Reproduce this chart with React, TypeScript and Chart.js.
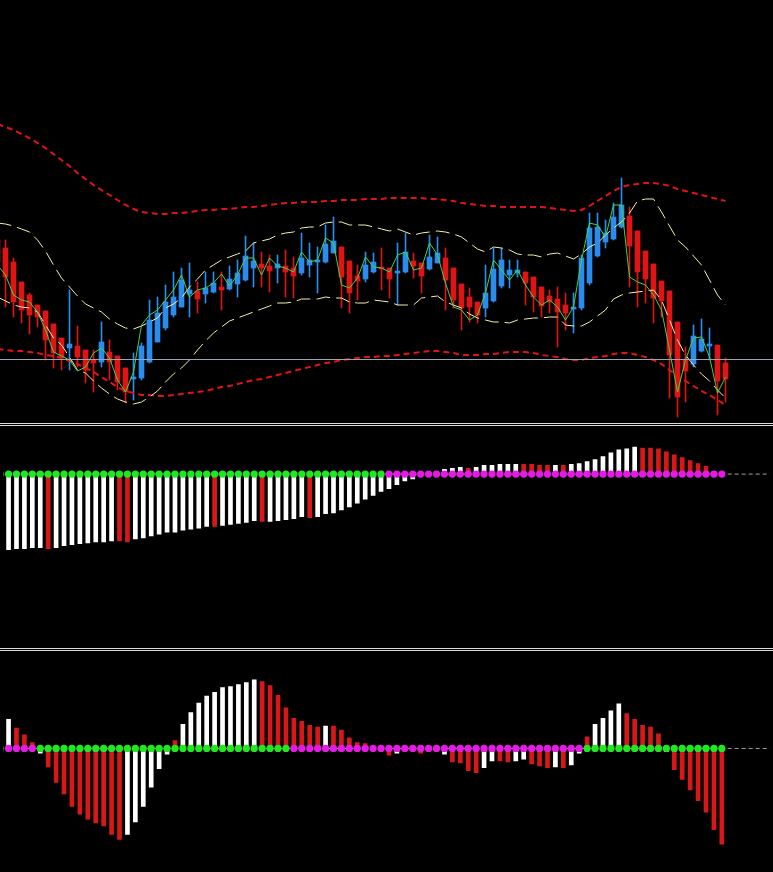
import React, { useEffect, useRef } from 'react';
import { Chart, registerables } from 'chart.js';
Chart.register(...registerables);

// ---------- price panel (bars k = -1 .. 90) ----------
const OPEN = [
  1.4760,1.4752,1.4738,1.4718,1.4705,1.4695,1.4689,1.4676,1.4662,1.4652,
  1.4654,1.4650,1.4640,1.4638,1.4648,1.4644,1.4632,1.4621,1.4622,1.4638,
  1.4658,1.4672,1.4685,1.4693,1.4706,1.4709,1.4706,1.4708,1.4713,1.4711,
  1.4716,1.4720,1.4732,1.4736,1.4734,1.4732,1.4734,1.4732,1.4727,1.4735,
  1.4738,1.4738,1.4747,1.4753,1.4739,1.4724,1.4721,1.4728,1.4733,1.4732,
  1.4727,1.4728,1.4739,1.4737,1.4731,1.4737,1.4742,1.4732,1.4716,1.4703,
  1.4698,1.4692,1.4699,1.4714,1.4725,1.4727,1.4728,1.4723,1.4713,1.4704,
  1.4701,1.4695,1.4691,1.4692,1.4717,1.4744,1.4758,1.4761,1.4773,1.4784,
  1.4769,1.4749,1.4736,1.4719,1.4709,1.4678,1.4641,1.4636,1.4649,1.4654,
  1.4655,1.4637,
];
const HIGH = [
  1.4765,1.4760,1.4742,1.4718,1.4707,1.4695,1.4689,1.4676,1.4662,1.4710,
  1.4674,1.4650,1.4650,1.4678,1.4660,1.4644,1.4632,1.4647,1.4657,1.4700,
  1.4703,1.4715,1.4728,1.4732,1.4737,1.4718,1.4728,1.4728,1.4728,1.4734,
  1.4740,1.4764,1.4757,1.4748,1.4745,1.4745,1.4750,1.4743,1.4767,1.4757,
  1.4753,1.4775,1.4783,1.4753,1.4739,1.4735,1.4748,1.4747,1.4752,1.4732,
  1.4757,1.4767,1.4747,1.4737,1.4765,1.4763,1.4752,1.4732,1.4716,1.4712,
  1.4698,1.4735,1.4752,1.4752,1.4740,1.4740,1.4728,1.4723,1.4713,1.4710,
  1.4713,1.4707,1.4707,1.4745,1.4787,1.4787,1.4780,1.4797,1.4822,1.4793,
  1.4769,1.4749,1.4736,1.4719,1.4709,1.4678,1.4653,1.4675,1.4681,1.4672,
  1.4655,1.4642,
];
const LOW = [
  1.4730,1.4693,1.4683,1.4677,1.4666,1.4673,1.4640,1.4632,1.4630,1.4630,
  1.4633,1.4617,1.4608,1.4633,1.4620,1.4610,1.4597,1.4600,1.4620,1.4637,
  1.4658,1.4670,1.4683,1.4693,1.4683,1.4687,1.4697,1.4707,1.4690,1.4710,
  1.4703,1.4719,1.4713,1.4713,1.4708,1.4717,1.4703,1.4702,1.4725,1.4723,
  1.4707,1.4737,1.4747,1.4692,1.4687,1.4700,1.4718,1.4727,1.4710,1.4702,
  1.4695,1.4727,1.4722,1.4707,1.4730,1.4737,1.4690,1.4692,1.4670,1.4678,
  1.4677,1.4683,1.4698,1.4712,1.4712,1.4723,1.4695,1.4688,1.4683,1.4687,
  1.4653,1.4670,1.4667,1.4690,1.4715,1.4743,1.4752,1.4760,1.4772,1.4713,
  1.4693,1.4697,1.4677,1.4683,1.4602,1.4583,1.4598,1.4633,1.4648,1.4640,
  1.4585,1.4598,
];
const CLOSE = [
  1.4738,1.4723,1.4698,1.4690,1.4685,1.4683,1.4660,1.4647,1.4642,1.4656,
  1.4643,1.4630,1.4637,1.4658,1.4638,1.4618,1.4608,1.4623,1.4654,1.4680,
  1.4687,1.4698,1.4703,1.4720,1.4710,1.4701,1.4712,1.4717,1.4710,1.4721,
  1.4727,1.4744,1.4739,1.4732,1.4729,1.4736,1.4728,1.4724,1.4742,1.4740,
  1.4740,1.4756,1.4759,1.4723,1.4707,1.4719,1.4735,1.4738,1.4731,1.4721,
  1.4729,1.4748,1.4734,1.4724,1.4743,1.4747,1.4720,1.4700,1.4692,1.4693,
  1.4685,1.4707,1.4731,1.4740,1.4730,1.4730,1.4717,1.4703,1.4694,1.4698,
  1.4688,1.4687,1.4693,1.4742,1.4772,1.4773,1.4767,1.4783,1.4795,1.4754,
  1.4728,1.4721,1.4702,1.4699,1.4645,1.4603,1.4629,1.4664,1.4661,1.4656,
  1.4619,1.4621,
];
const FAST_MA = [
  1.4735,1.4725,1.4705,1.4700,1.4698,1.4688,1.4670,1.4648,1.4644,1.4640,
  1.4629,1.4633,1.4647,1.4652,1.4642,1.4620,1.4608,1.4628,1.4675,1.4685,
  1.4690,1.4700,1.4710,1.4725,1.4703,1.4710,1.4712,1.4717,1.4726,1.4714,
  1.4725,1.4742,1.4742,1.4725,1.4742,1.4734,1.4732,1.4728,1.4748,1.4738,
  1.4740,1.4762,1.4757,1.4715,1.4712,1.4722,1.4743,1.4733,1.4732,1.4728,
  1.4745,1.4748,1.4730,1.4732,1.4757,1.4745,1.4717,1.4693,1.4690,1.4680,
  1.4685,1.4707,1.4740,1.4730,1.4720,1.4730,1.4715,1.4703,1.4695,1.4700,
  1.4693,1.4680,1.4693,1.4740,1.4777,1.4775,1.4763,1.4795,1.4795,1.4723,
  1.4718,1.4715,1.4705,1.4690,1.4650,1.4608,1.4640,1.4662,1.4663,1.4643,
  1.4607,1.4623,
];
const INNER_UPPER = [
  1.4777,1.4776,1.4774,1.4771,1.4768,1.4760,1.4749,1.4735,1.4722,1.4713,
  1.4704,1.4696,1.4692,1.4688,1.4681,1.4676,1.4672,1.4671,1.4674,1.4678,
  1.4682,1.4692,1.4696,1.4702,1.4713,1.4721,1.4730,1.4735,1.4740,1.4743,
  1.4746,1.4749,1.4757,1.4759,1.4761,1.4765,1.4767,1.4768,1.4772,1.4773,
  1.4773,1.4777,1.4778,1.4778,1.4775,1.4775,1.4775,1.4773,1.4771,1.4769,
  1.4771,1.4768,1.4765,1.4767,1.4768,1.4769,1.4768,1.4766,1.4763,1.4757,
  1.4751,1.4748,1.4753,1.4752,1.4750,1.4746,1.4745,1.4745,1.4743,1.4746,
  1.4747,1.4744,1.4741,1.4746,1.4753,1.4757,1.4765,1.4772,1.4778,1.4787,
  1.4799,1.4801,1.4801,1.4788,1.4774,1.4760,1.4753,1.4744,1.4735,1.4720,
  1.4705,1.4695,
];
const INNER_LOWER = [
  1.4703,1.4699,1.4695,1.4693,1.4692,1.4688,1.4675,1.4662,1.4655,1.4643,
  1.4630,1.4627,1.4619,1.4612,1.4606,1.4601,1.4598,1.4596,1.4598,1.4603,
  1.4609,1.4618,1.4626,1.4632,1.4640,1.4650,1.4659,1.4667,1.4673,1.4679,
  1.4682,1.4685,1.4688,1.4691,1.4694,1.4697,1.4697,1.4698,1.4701,1.4701,
  1.4701,1.4703,1.4702,1.4702,1.4698,1.4697,1.4697,1.4700,1.4699,1.4698,
  1.4695,1.4695,1.4695,1.4702,1.4703,1.4704,1.4698,1.4695,1.4692,1.4686,
  1.4682,1.4680,1.4678,1.4678,1.4677,1.4680,1.4681,1.4682,1.4682,1.4683,
  1.4683,1.4675,1.4674,1.4674,1.4678,1.4684,1.4690,1.4701,1.4705,1.4707,
  1.4708,1.4709,1.4710,1.4700,1.4680,1.4660,1.4645,1.4635,1.4626,1.4619,
  1.4610,1.4602,
];
const OUTER_UPPER = [
  1.4876,1.4873,1.4870,1.4866,1.4862,1.4857,1.4852,1.4846,1.4840,1.4834,
  1.4827,1.4821,1.4815,1.4810,1.4805,1.4800,1.4795,1.4791,1.4788,1.4787,
  1.4786,1.4786,1.4787,1.4787,1.4788,1.4789,1.4790,1.4790,1.4791,1.4791,
  1.4792,1.4793,1.4793,1.4794,1.4795,1.4796,1.4797,1.4797,1.4798,1.4798,
  1.4798,1.4799,1.4799,1.4800,1.4800,1.4800,1.4801,1.4801,1.4801,1.4802,
  1.4802,1.4802,1.4802,1.4802,1.4801,1.4801,1.4800,1.4799,1.4797,1.4796,
  1.4795,1.4794,1.4794,1.4793,1.4793,1.4793,1.4793,1.4793,1.4793,1.4792,
  1.4791,1.4790,1.4789,1.4790,1.4794,1.4799,1.4804,1.4809,1.4813,1.4815,
  1.4816,1.4817,1.4817,1.4816,1.4814,1.4811,1.4809,1.4807,1.4805,1.4803,
  1.4801,1.4799,
];
const OUTER_LOWER = [
  1.4651,1.4650,1.4649,1.4649,1.4648,1.4647,1.4645,1.4644,1.4642,1.4639,
  1.4636,1.4632,1.4628,1.4623,1.4618,1.4613,1.4609,1.4607,1.4605,1.4605,
  1.4604,1.4604,1.4605,1.4606,1.4607,1.4608,1.4609,1.4611,1.4613,1.4614,
  1.4616,1.4618,1.4620,1.4621,1.4623,1.4625,1.4627,1.4629,1.4631,1.4633,
  1.4635,1.4637,1.4638,1.4640,1.4641,1.4642,1.4643,1.4643,1.4644,1.4644,
  1.4645,1.4646,1.4647,1.4648,1.4649,1.4649,1.4648,1.4647,1.4645,1.4645,
  1.4645,1.4646,1.4646,1.4647,1.4648,1.4648,1.4648,1.4647,1.4645,1.4644,
  1.4643,1.4641,1.4640,1.4640,1.4642,1.4643,1.4644,1.4646,1.4647,1.4647,
  1.4645,1.4643,1.4640,1.4636,1.4630,1.4624,1.4619,1.4614,1.4609,1.4605,
  1.4600,1.4595,
];
const PRICE_LEVEL = 1.46405;

// ---------- middle oscillator ----------
const MID_HIST = [
  -7.9,-7.8,-7.7,-7.7,-7.6,-7.6,-7.7,-7.6,-7.4,-7.3,
  -7.2,-7.1,-7.0,-7.0,-6.9,-6.9,-7.0,-6.7,-6.6,-6.4,
  -6.2,-6.0,-6.0,-5.8,-5.7,-5.6,-5.4,-5.4,-5.3,-5.2,
  -5.1,-5.0,-4.8,-4.9,-4.9,-4.8,-4.7,-4.6,-4.4,-4.5,
  -4.4,-4.1,-4.0,-3.7,-3.4,-3.0,-2.6,-2.2,-1.8,-1.5,
  -1.1,-0.7,-0.5,-0.2,0.1,0.3,0.5,0.6,0.7,0.6,
  0.7,0.9,0.9,1.0,1.0,1.0,1.0,1.0,0.9,0.9,
  0.9,0.9,1.0,1.1,1.3,1.5,1.8,2.2,2.5,2.6,
  2.8,2.7,2.7,2.6,2.3,2.0,1.7,1.4,1.1,0.8,
  0.3,0.2,
];
const MID_HIST_COLOR = [...(
  'WWWWWWRWWW' + 'WWWWWRRWWW' + 'WWWWWWWRWW' + 'WWWRWWWWWR' + 'WWWWWWWWWW' +
  'WWWWWWWWWR' + 'WWWWWWRRRR' + 'WRWWWWWWWW' + 'WRRRRRRRRR' + 'RR')];
const MID_DOT_STATE = [...(
  'GGGGGGGGGG' + 'GGGGGGGGGG' + 'GGGGGGGGGG' + 'GGGGGGGGGG' + 'GGGGGGGGGM' +
  'MMMMMMMMMM' + 'MMMMMMMMMM' + 'MMMMMMMMMM' + 'MMMMMMMMMM' + 'MM')];

// ---------- bottom oscillator ----------
const BOT_HIST = [
  2.5,3.0,2.1,1.4,0.6,-0.5,-1.9,-3.5,-4.7,-6.0,
  -6.8,-7.3,-7.7,-8.0,-8.9,-9.4,-8.9,-7.6,-6.0,-4.0,
  -2.1,-0.6,0.8,2.5,3.7,4.7,5.4,5.8,6.3,6.4,
  6.6,6.8,7.1,6.9,6.5,5.5,4.2,3.1,2.8,2.4,
  2.2,2.3,2.3,1.9,1.1,0.6,0.5,0.2,0.1,-0.7,
  -0.5,-0.1,-0.1,-0.5,-0.2,-0.1,-0.6,-1.4,-1.5,-2.3,
  -2.5,-2.0,-1.3,-1.3,-1.4,-1.3,-1.1,-1.6,-1.8,-2.0,
  -1.9,-2.0,-1.7,-0.5,1.2,2.5,3.1,3.9,4.6,3.6,
  3.0,2.4,2.2,1.5,-0.3,-2.2,-3.2,-4.3,-5.4,-6.6,
  -8.4,-9.9,
];
const BOT_HIST_COLOR = [...(
  'WWRRRWRRRR' + 'RRRRRRWWWW' + 'WWRWWWWWWW' + 'WWWRRRRRRR' + 'RWRRRRRRRR' +
  'WWRRRWWRRR' + 'RWWRRWWRRR' + 'WRWWRWWWWR' + 'RRRRWRRRRR' + 'RR')];
const BOT_DOT_STATE = [...(
  'GMMMMGGGGG' + 'GGGGGGGGGG' + 'GGGGGGGGGG' + 'GGGGGGGMMM' + 'MMMMMMMMMM' +
  'MMMMMMMMMM' + 'MMMMMMMMMM' + 'MMMMGGGGGG' + 'GGGGGGGGGG' + 'GG')];

// ---------- styling ----------
const W = 773;
const STEP = 8;
const RED = '#e01414';
const BLUE = '#2c8cee';
const HIST_RED = '#d81818';
const HIST_WHITE = '#ffffff';
const DOT_GREEN = '#1ee81e';
const DOT_MAGENTA = '#e619e6';
const SEP = '#dcdcdc';

const xOf = (i: number) => i - 1;
const series = (arr: number[]) => arr.map((v, i) => ({ x: xOf(i), y: v }));

function baseOptions(firstPx: number, ymin: number, ymax: number): any {
  const xmin = -firstPx / STEP;
  return {
    responsive: false,
    maintainAspectRatio: false,
    animation: false,
    devicePixelRatio: 1,
    events: [],
    layout: { padding: 0 },
    plugins: { legend: { display: false }, tooltip: { enabled: false }, title: { display: false } },
    scales: {
      x: { type: 'linear', display: false, min: xmin, max: xmin + W / STEP, offset: false, bounds: 'data',
           grid: { display: false }, ticks: { display: false } },
      y: { type: 'linear', display: false, min: ymin, max: ymax, bounds: 'data',
           grid: { display: false }, ticks: { display: false } },
    },
    elements: { point: { radius: 0 }, line: { tension: 0 } },
  };
}

function priceConfig(): any {
  const candleColor = OPEN.map((o, i) => (CLOSE[i] > o ? BLUE : RED));
  const n = OPEN.length;
  const line = (label: string, arr: number[], color: string, width: number, dash: number[], order: number) => ({
    type: 'line', label, data: series(arr), borderColor: color, borderWidth: width, borderDash: dash,
    pointRadius: 0, fill: false, order,
  });
  return {
    type: 'bar',
    data: {
      datasets: [
        { type: 'line', label: 'level', data: [{ x: -2, y: PRICE_LEVEL }, { x: 100, y: PRICE_LEVEL }],
          borderColor: '#98a4b8', borderWidth: 1, pointRadius: 0, order: 0 },
        line('fast', FAST_MA, '#46d246', 1, [], 1),
        line('innerUpper', INNER_UPPER, '#f4efaa', 1, [14, 6], 2),
        line('innerLower', INNER_LOWER, '#f4efaa', 1, [14, 6], 2),
        line('outerUpper', OUTER_UPPER, RED, 2, [6, 4], 2),
        line('outerLower', OUTER_LOWER, RED, 2, [6, 4], 2),
        { type: 'bar', label: 'body', grouped: false, barThickness: 5, minBarLength: 1,
          data: OPEN.map((o, i) => ({ x: xOf(i), y: [o, CLOSE[i]] })),
          backgroundColor: candleColor, borderWidth: 0, order: 5 },
        { type: 'bar', label: 'wick', grouped: false, barThickness: 1,
          data: Array.from({ length: n }, (_, i) => ({ x: xOf(i), y: [LOW[i], HIGH[i]] })),
          backgroundColor: candleColor, borderWidth: 0, order: 6 },
      ],
    },
    options: baseOptions(5.5, 1.4577, 1.5),
  };
}

function oscConfig(hist: number[], histColor: string[], dots: string[], ymin: number, ymax: number): any {
  return {
    type: 'bar',
    data: {
      datasets: [
        { type: 'line', label: 'signal', data: hist.map((_, i) => ({ x: xOf(i), y: 0 })),
          showLine: false, pointRadius: 3.6, pointHoverRadius: 3.6, pointBorderWidth: 0,
          pointBackgroundColor: dots.map(d => (d === 'G' ? DOT_GREEN : DOT_MAGENTA)),
          pointBorderColor: dots.map(d => (d === 'G' ? DOT_GREEN : DOT_MAGENTA)), order: 1 },
        { type: 'bar', label: 'hist', grouped: false, barThickness: 4,
          data: series(hist),
          backgroundColor: histColor.map(c => (c === 'R' ? HIST_RED : HIST_WHITE)), borderWidth: 0, order: 2 },
        { type: 'line', label: 'zero', data: [{ x: -2, y: 0 }, { x: 100, y: 0 }],
          borderColor: '#a0a0a0', borderWidth: 1, borderDash: [4, 3], pointRadius: 0, order: 3 },
      ],
    },
    options: baseOptions(5, ymin, ymax),
  };
}

export default function App() {
  const topRef = useRef<HTMLCanvasElement>(null);
  const midRef = useRef<HTMLCanvasElement>(null);
  const botRef = useRef<HTMLCanvasElement>(null);

  useEffect(() => {
    document.body.style.margin = '0';
    document.body.style.background = '#000';
    const c1 = new Chart(topRef.current as HTMLCanvasElement, priceConfig());
    const c2 = new Chart(midRef.current as HTMLCanvasElement, oscConfig(MID_HIST, MID_HIST_COLOR, MID_DOT_STATE, -17.6, 4.6));
    const c3 = new Chart(botRef.current as HTMLCanvasElement, oscConfig(BOT_HIST, BOT_HIST_COLOR, BOT_DOT_STATE, -12.4, 9.7));
    return () => { c1.destroy(); c2.destroy(); c3.destroy(); };
  }, []);

  const abs = (top: number, h: number): React.CSSProperties => ({ position: 'absolute', left: 0, top, width: W, height: h });
  return (
    <div style={{ position: 'relative', width: W, height: 872, background: '#000', overflow: 'hidden' }}>
      <canvas ref={topRef} width={W} height={423} style={abs(0, 423)} />
      <div style={{ ...abs(423, 1), background: SEP }} />
      <div style={{ ...abs(425, 1), background: SEP }} />
      <canvas ref={midRef} width={W} height={222} style={abs(426, 222)} />
      <div style={{ ...abs(648, 1), background: SEP }} />
      <div style={{ ...abs(650, 1), background: SEP }} />
      <canvas ref={botRef} width={W} height={221} style={abs(651, 221)} />
    </div>
  );
}
